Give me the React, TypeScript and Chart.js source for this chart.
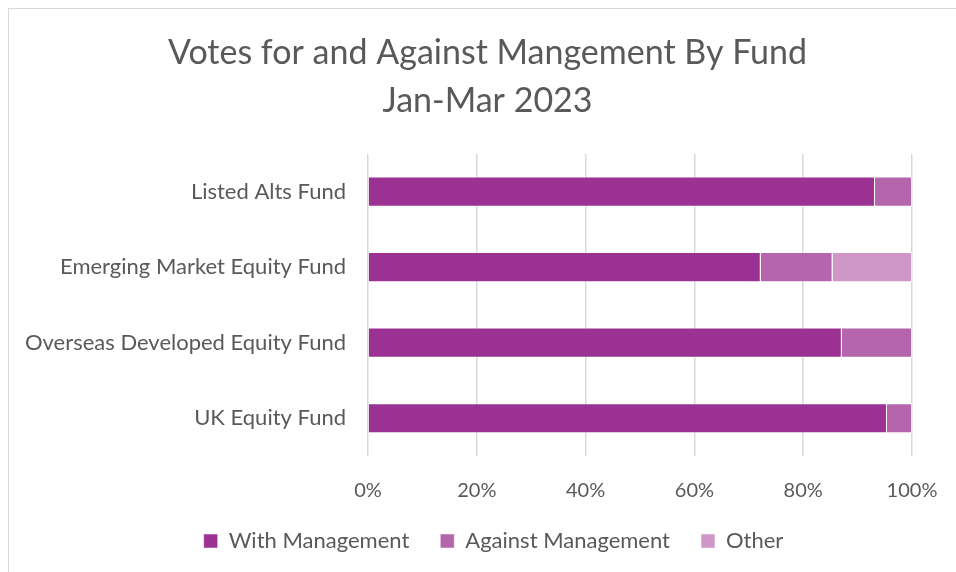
import React, { useEffect, useRef } from "react";
import { Chart, registerables } from "chart.js";

Chart.register(...registerables);

const categories = [
  "Listed Alts Fund",
  "Emerging Market Equity Fund",
  "Overseas Developed Equity Fund",
  "UK Equity Fund",
];
const withManagement = [93.2, 72.2, 87.1, 95.4];
const againstManagement = [6.8, 13.2, 12.9, 4.6];
const other = [0, 14.6, 0, 0];
const xTicks = [0, 20, 40, 60, 80, 100];
const titleLines = ["Votes for and Against Mangement By Fund", "Jan-Mar 2023"];

const FONT = "Lato, 'Noto Sans', sans-serif";
const TEXT = "#595959";
const BORDER = "rgba(255,255,255,0.5)";

// shift the title and legend blocks horizontally so they are centred like the reference
const shiftBlocks = {
  id: "shiftBlocks",
  afterLayout(chart: any) {
    const t = chart.titleBlock;
    if (t) {
      t.left += 27;
      t.right += 27;
    }
    const l = chart.legend;
    if (l) {
      l.left += 33;
      l.right += 33;
    }
  },
};

export default function App() {
  const ref = useRef<HTMLCanvasElement | null>(null);
  useEffect(() => {
    document.documentElement.style.overflow = "hidden";
    document.body.style.overflow = "hidden";
    if (!ref.current) return;
    const chart = new Chart(ref.current, {
      type: "bar",
      data: {
        labels: categories,
        datasets: [
          { label: "With Management", data: withManagement, backgroundColor: "#9B3192", borderColor: BORDER, borderWidth: 1, barPercentage: 0.4, categoryPercentage: 1 },
          { label: "Against Management", data: againstManagement, backgroundColor: "#B565AC", borderColor: BORDER, borderWidth: 1, barPercentage: 0.4, categoryPercentage: 1 },
          { label: "Other", data: other, backgroundColor: "#CE97C7", borderColor: BORDER, borderWidth: 1, barPercentage: 0.4, categoryPercentage: 1 },
        ],
      },
      plugins: [shiftBlocks],
      options: {
        indexAxis: "y",
        responsive: false,
        animation: false,
        layout: { padding: { left: 0, right: 44, top: 0, bottom: 10 } },
        plugins: {
          title: {
            display: true,
            text: titleLines,
            color: TEXT,
            font: { family: FONT, size: 34, weight: "normal", lineHeight: 1.41 },
            padding: { top: 20, bottom: 29 },
          },
          legend: {
            position: "bottom",
            labels: {
              color: TEXT,
              font: { family: FONT, size: 22 },
              boxWidth: 14,
              boxHeight: 14,
              padding: 31,
            },
          },
          tooltip: { enabled: false },
        },
        scales: {
          x: {
            stacked: true,
            min: 0,
            max: 100,
            afterBuildTicks: (axis: any) => {
              axis.ticks = xTicks.map((v) => ({ value: v }));
            },
            afterFit: (scale: any) => {
              scale.height = 43;
              scale.paddingLeft = 0;
              scale.paddingRight = 0;
            },
            grid: { color: "#d9d9d9", lineWidth: 1.5, drawTicks: false },
            border: { display: false },
            ticks: {
              color: TEXT,
              font: { family: FONT, size: 20 },
              padding: 23,
              maxRotation: 0,
              minRotation: 0,
              autoSkip: false,
              callback: (v: any) => v + "%",
            },
          },
          y: {
            stacked: true,
            grid: { display: false, drawTicks: false },
            border: { display: false },
            afterFit: (scale: any) => {
              scale.width = 359;
            },
            ticks: {
              color: TEXT,
              font: { family: FONT, size: 22 },
              padding: 22,
            },
          },
        },
      },
    });
    return () => chart.destroy();
  }, []);
  return (
    <div
      style={{
        position: "absolute",
        left: 8,
        top: 8,
        width: 947,
        height: 563,
        overflow: "hidden",
        borderTop: "1px solid #d9d9d9",
        borderLeft: "1px solid #d9d9d9",
        background: "#fff",
      }}
    >
      <canvas ref={ref} width={947} height={563} style={{ display: "block" }} />
    </div>
  );
}
